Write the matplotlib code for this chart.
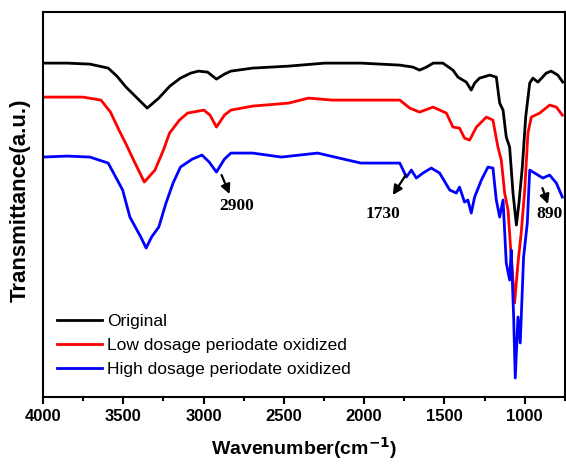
import matplotlib.pyplot as plt
from matplotlib.ticker import MultipleLocator

# wavenumber (cm-1) and transmittance (a.u., arbitrary offsets)
wn_original = [4000, 3850, 3708, 3594, 3540, 3483, 3420, 3351, 3279, 3210, 3144, 3080,
               3032, 2975, 2920, 2870, 2830, 2695, 2470, 2245, 2021, 1778, 1696, 1655,
               1612, 1570, 1510, 1447, 1416, 1385, 1364, 1333, 1312, 1281, 1218, 1177,
               1156, 1135, 1115, 1094, 1073, 1052, 1036, 1015, 994, 969, 949, 918,
               866, 835, 794, 763]
t_original = [334, 334, 333, 329, 321, 310, 300, 289, 299, 311, 319, 324,
              326, 325, 318, 323, 326, 329, 331, 334, 334, 332, 330, 327,
              330, 334, 334, 327, 320, 317, 315, 307, 314, 319, 322, 320,
              294, 287, 260, 250, 204, 172, 194, 230, 280, 314, 319, 315,
              324, 326, 322, 315]

wn_low = [4000, 3751, 3639, 3580, 3527, 3480, 3436, 3369, 3303, 3250, 3212, 3150,
          3100, 2998, 2960, 2920, 2870, 2830, 2695, 2470, 2347, 2200, 2021, 1778,
          1716, 1655, 1571, 1488, 1447, 1406, 1375, 1343, 1301, 1239, 1198, 1167,
          1146, 1125, 1104, 1084, 1063, 1042, 1022, 1000, 980, 959, 907, 845,
          803, 766]
t_low = [300, 300, 297, 285, 267, 252, 237, 215, 227, 247, 264, 277,
         284, 287, 282, 270, 282, 287, 291, 294, 299, 297, 297, 297,
         289, 285, 290, 284, 270, 269, 259, 257, 270, 280, 277, 250,
         237, 204, 187, 140, 94, 134, 164, 207, 264, 280, 284, 292,
         290, 282]

wn_high = [4000, 3850, 3708, 3594, 3504, 3459, 3391, 3358, 3324, 3279, 3234, 3190,
           3144, 3070, 3010, 2965, 2920, 2870, 2830, 2695, 2515, 2290, 2021, 1797,
           1778, 1737, 1706, 1675, 1634, 1582, 1530, 1467, 1426, 1406, 1375, 1354,
           1333, 1312, 1270, 1229, 1198, 1177, 1156, 1135, 1115, 1094, 1084, 1069,
           1059, 1042, 1028, 1007, 984, 969, 938, 887, 845, 803, 766]
t_high = [240, 241, 240, 234, 207, 180, 160, 149, 160, 170, 194, 214,
          230, 238, 242, 235, 225, 238, 244, 244, 240, 244, 234, 234,
          234, 220, 227, 219, 224, 229, 224, 207, 204, 210, 195, 197,
          184, 200, 217, 230, 229, 197, 180, 197, 134, 117, 147, 80,
          19, 80, 54, 140, 174, 227, 224, 219, 222, 214, 200]

labels = ['Original', 'Low dosage periodate oxidized', 'High dosage periodate oxidized']
colors = ['black', 'red', 'blue']

# peak labels: text, arrow start, arrow end, text position
peaks = [('2900', (2888, 222), (2838, 203), (2796, 191)),
         ('1730', (1741, 222), (1822, 202), (1886, 183)),
         ('890', (890, 209), (855, 193), (845, 183))]

fig = plt.figure(figsize=(5.66, 4.67), dpi=100)
ax = fig.add_axes([0.076, 0.15, 0.922, 0.824])

for wn, t, lab, c in zip([wn_original, wn_low, wn_high],
                         [t_original, t_low, t_high], labels, colors):
    ax.plot(wn, t, color=c, lw=2, label=lab)

for txt, start, end, pos in peaks:
    ax.annotate('', xy=end, xytext=start,
                arrowprops=dict(arrowstyle='-|>', color='black', lw=1.6,
                                mutation_scale=14, shrinkA=0, shrinkB=0))
    ax.text(pos[0], pos[1], txt, ha='center', va='center', fontsize=12.5,
            fontweight='bold', family='Liberation Serif')

ax.set_xlim(4000, 750)
ax.set_ylim(0, 385)
ax.xaxis.set_major_locator(MultipleLocator(500))
ax.xaxis.set_minor_locator(MultipleLocator(250))
ax.set_yticks([])

for s in ax.spines.values():
    s.set_linewidth(1.5)
ax.tick_params(axis='x', which='major', direction='out', length=5, width=1.5, pad=4)
ax.tick_params(axis='x', which='minor', direction='out', length=3, width=1.5)
for lbl in ax.get_xticklabels():
    lbl.set_fontfamily('Liberation Sans')
    lbl.set_fontweight('bold')
    lbl.set_fontsize(12)

ax.set_xlabel('Wavenumber(cm$^{\\mathbf{-1}}$)', fontsize=14, fontweight='bold',
              family='Liberation Sans', labelpad=8)
ax.set_ylabel('Transmittance(a.u.)', fontsize=16, fontweight='bold',
              family='Liberation Sans')
ax.yaxis.set_label_coords(-0.024, 0.51)

ax.legend(loc='lower left', bbox_to_anchor=(0.027, 0.052), frameon=False,
          borderpad=0, borderaxespad=0, handlelength=2.6, handletextpad=0.3,
          labelspacing=0.5, prop={'family': 'Liberation Sans', 'size': 12.5})

fig.savefig('out.png', dpi=100)
